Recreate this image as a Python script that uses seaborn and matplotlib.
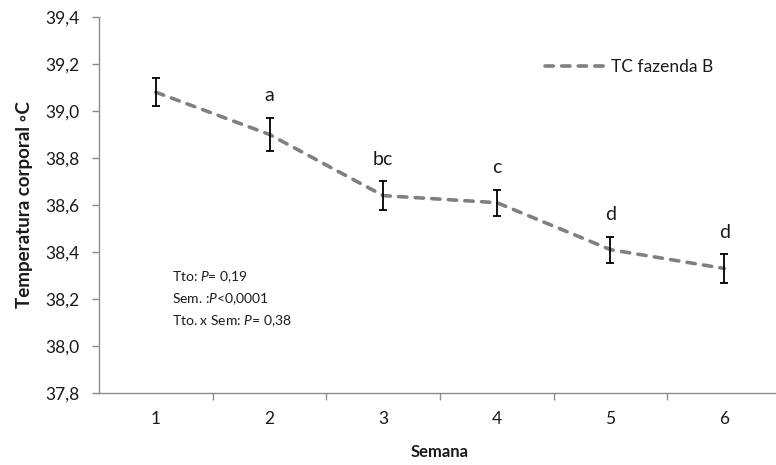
import numpy as np
import pandas as pd
import matplotlib
matplotlib.use("Agg")
import matplotlib.pyplot as plt
import seaborn as sns
from matplotlib.ticker import FixedLocator, FuncFormatter, NullFormatter

# ---- data ----
semana = [1, 2, 3, 4, 5, 6]
tc_mean = [39.08, 38.90, 38.64, 38.61, 38.41, 38.33]
tc_err = [0.06, 0.07, 0.06, 0.055, 0.055, 0.06]
letras = ["", "a", "bc", "c", "d", "d"]
y_ticks = [37.8, 38.0, 38.2, 38.4, 38.6, 38.8, 39.0, 39.2, 39.4]
serie_nome = "TC fazenda B"
stats_lines = [r"Tto: $\mathit{P}$= 0,19",
               r"Sem. :$\mathit{P}$<0,0001",
               r"Tto. x Sem: $\mathit{P}$= 0,38"]

sns.set_theme(style="white")
plt.rcParams['font.family'] = ['Lato', 'DejaVu Sans']
plt.rcParams['mathtext.fontset'] = 'custom'
plt.rcParams['mathtext.rm'] = 'Lato'
plt.rcParams['mathtext.it'] = 'Lato:italic'

W, H = 776, 465
fig = plt.figure(figsize=(W / 100, H / 100), dpi=100)
ax = fig.add_axes([99 / W, (H - 393) / H, 682 / W, 376 / H])

df = pd.DataFrame({"Semana": semana, "TC": tc_mean})
sns.lineplot(data=df, x="Semana", y="TC", color="#808080", linewidth=2.6,
             ax=ax, label=serie_nome)
dash_seq = [2.3, 2.3]
ln = ax.lines[0]
ln.set_dashes(dash_seq)
ln.set_dash_capstyle('round')

ax.errorbar(semana, tc_mean, yerr=tc_err, fmt='none', ecolor='black',
            elinewidth=1.3, capsize=3.0, capthick=1.3, zorder=3)

for x, m, e, t in zip(semana, tc_mean, tc_err, letras):
    if t:
        ax.annotate(t, (x, m + e), xytext=(0, 12), textcoords='offset points',
                    ha='center', va='baseline', fontsize=14, color='#1a1a1a')

ax.set_xlim(0.5, 6.5)
ax.set_ylim(y_ticks[0], y_ticks[-1])
ax.yaxis.set_major_locator(FixedLocator(y_ticks))
ax.yaxis.set_major_formatter(FuncFormatter(lambda v, p: f"{v:.1f}".replace('.', ',')))
ax.xaxis.set_major_locator(FixedLocator([1.5, 2.5, 3.5, 4.5, 5.5, 6.5]))
ax.xaxis.set_major_formatter(NullFormatter())
ax.xaxis.set_minor_locator(FixedLocator(semana))
ax.xaxis.set_minor_formatter(FuncFormatter(lambda v, p: str(int(round(v)))))

spine_c = '#8c8c8c'
for s in ['top', 'right']:
    ax.spines[s].set_visible(False)
for s in ['left', 'bottom']:
    ax.spines[s].set_color(spine_c)
    ax.spines[s].set_linewidth(1.0)

ax.tick_params(axis='y', which='major', left=True, length=5, width=1.0,
               color=spine_c, pad=9, labelsize=12.5, labelcolor='#1a1a1a')
ax.tick_params(axis='x', which='major', bottom=True, length=5, width=1.0,
               color=spine_c)
ax.tick_params(axis='x', which='minor', bottom=True, length=0, pad=13,
               labelsize=12.5, labelcolor='#1a1a1a')

ax.set_xlabel("Semana", fontsize=12, fontweight='bold', color='#1a1a1a', va='center')
ax.xaxis.set_label_coords((440 - 99) / 682, (393 - 452) / 376)
ax.set_ylabel("Temperatura corporal \u25e6C", fontsize=13.5, fontweight='bold',
              color='#1a1a1a', va='center')
ax.yaxis.set_label_coords((25 - 99) / 682, (393 - 205) / 376)

for i, s in enumerate(stats_lines):
    ax.text((172 - 99) / 682, (393 - (277 + 22 * i)) / 376, s,
            transform=ax.transAxes, fontsize=10, va='center', ha='left',
            color='#1a1a1a')

leg = ax.legend(loc='center left', bbox_to_anchor=(545 / W, 1 - 67 / H),
                bbox_transform=fig.transFigure, frameon=False, fontsize=12.5,
                handlelength=3.4, handletextpad=0.4, borderpad=0, borderaxespad=0)
for h in leg.get_lines():
    h.set_dashes(dash_seq)
    h.set_dash_capstyle('round')
for t in leg.get_texts():
    t.set_color('#1a1a1a')

fig.savefig("out.png", dpi=100)
